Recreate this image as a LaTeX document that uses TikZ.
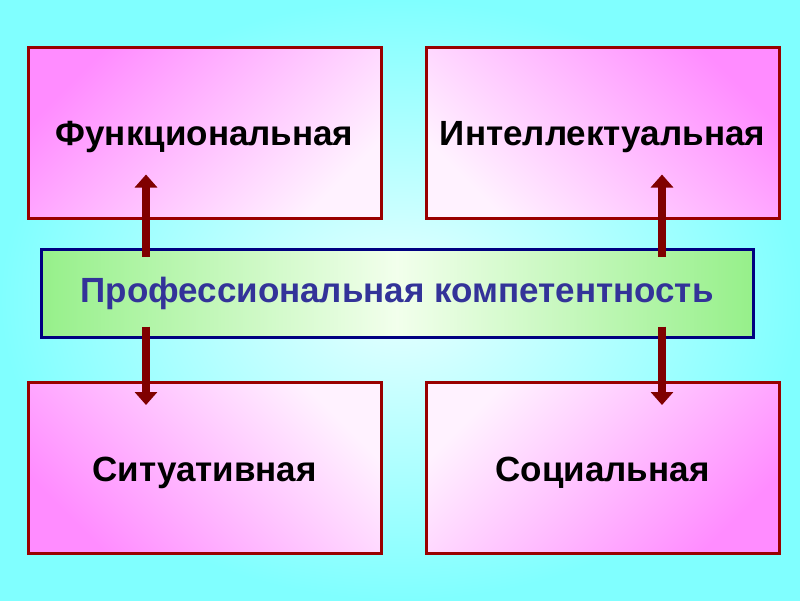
\documentclass[tikz,border=0pt]{standalone}
\usepackage{fontspec}
\setmainfont{Liberation Sans}
\usetikzlibrary{arrows.meta}
\definecolor{bgin}{HTML}{E8FFFF}
\definecolor{bgout}{HTML}{80FFFF}
\definecolor{pinkA}{HTML}{FF8CFF}
\definecolor{pinkB}{HTML}{FFF2FF}
\definecolor{boxred}{HTML}{990000}
\definecolor{greenA}{HTML}{96F08A}
\definecolor{greenB}{HTML}{F2FFEC}
\definecolor{navy}{HTML}{000080}
\definecolor{txtblue}{HTML}{333399}
\definecolor{arrred}{HTML}{800000}
\tikzset{
  pbox/.style={draw=boxred, line width=3pt, minimum width=353pt, minimum height=171pt,
    font=\fontsize{35}{40}\selectfont\bfseries, text=black, inner sep=0pt,
    text height=30pt, text depth=4pt},
  gbox/.style={draw=navy, line width=3pt, minimum width=712pt, minimum height=88pt,
    left color=greenA, right color=greenA, middle color=greenB,
    font=\fontsize{35}{40}\selectfont\bfseries, text=txtblue, inner sep=0pt},
  arr/.style={draw=arrred, line width=8pt, -{Triangle[width=22pt,length=13pt]}}
}
\begin{document}
\begin{tikzpicture}[x=1pt,y=-1pt]
\path[inner color=bgin, outer color=bgout] (0,0) rectangle (800,600);
\useasboundingbox (0,0) rectangle (800,600);
\node[pbox, top color=pinkA, bottom color=pinkB, shading angle=45] (fl) at (204.5,132.5) {Функциональная};
\node[pbox, top color=pinkA, bottom color=pinkB, shading angle=-45] (ir) at (602.5,132.5) {Интеллектуальная};
\node[pbox, bottom color=pinkA, top color=pinkB, shading angle=-45] (sl) at (204.5,468) {Ситуативная};
\node[pbox, bottom color=pinkA, top color=pinkB, shading angle=45] (sr) at (602.5,468) {Социальная};
\node[gbox] (g) at (397,293) {Профессиональная компетентность};
\coordinate (xl) at (146,0);
\coordinate (xr) at (662,0);
\draw[arr, shorten <=-9pt, shorten >=-45pt] (g.north -| xl) -- (fl.south -| xl);
\draw[arr, shorten <=-9pt, shorten >=-45pt] (g.north -| xr) -- (ir.south -| xr);
\draw[arr, shorten <=-12pt, shorten >=-24pt] (g.south -| xl) -- (sl.north -| xl);
\draw[arr, shorten <=-12pt, shorten >=-24pt] (g.south -| xr) -- (sr.north -| xr);
\end{tikzpicture}
\end{document}
